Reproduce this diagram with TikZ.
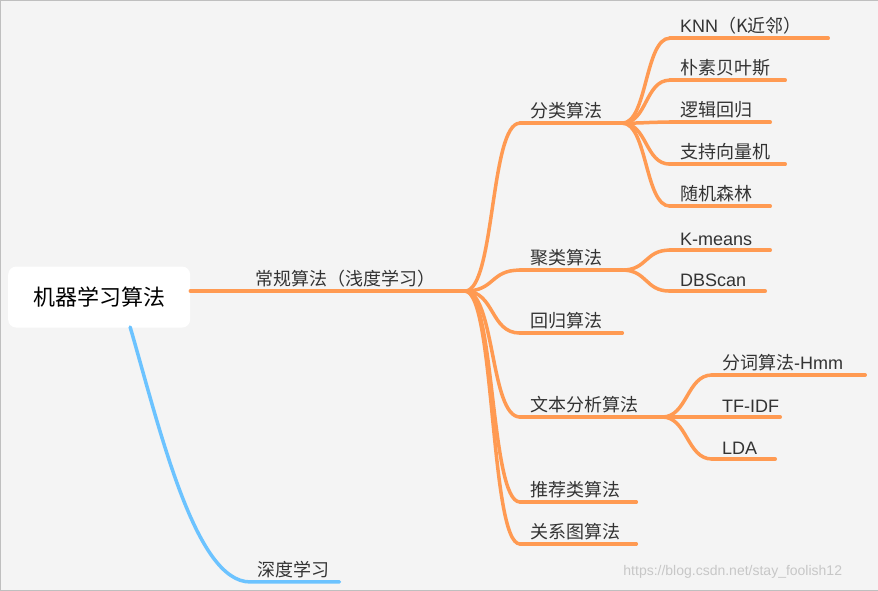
\documentclass[tikz,border=0pt]{standalone}
\usepackage{fontspec}
\newfontfamily\cjk{Noto Sans CJK SC}
\setsansfont{Liberation Sans}
\definecolor{org}{HTML}{FF9A52}
\definecolor{blu}{HTML}{6CC3FF}
\definecolor{bg}{HTML}{F4F4F4}
\definecolor{txt}{HTML}{333333}
\begin{document}
\begin{tikzpicture}[x=1pt,y=-1pt,
  lab/.style={anchor=south west,font=\cjk\fontsize{18}{21}\selectfont,text=txt,inner xsep=10pt,inner ysep=4pt,align=left},
  lat/.style={lab,font=\sffamily\fontsize{18}{21}\selectfont},
  ol/.style={draw=org,line width=3.5pt,line cap=round},
  bl/.style={draw=blu,line width=3.5pt,line cap=round}]
\path[fill=bg,draw=black!25] (0,0) rectangle (878,590);
\useasboundingbox (0,0) rectangle (878,590);
% root
\node[fill=white,rounded corners=8pt,minimum width=182pt,minimum height=61pt,font=\cjk\fontsize{22}{26}\selectfont,text=black] (root) at (99,297) {机器学习算法};
% main
\node[lab,text width=205pt,inner xsep=5pt] (main) at (250,291) {常规算法（浅度学习）};
\coordinate (H) at (465,291);
\draw[ol] (root.east |- H) -- (H);
% level 1
\node[lab,text width=82pt] (fl) at (520,123) {分类算法};
\node[lab,text width=82pt] (jl) at (520,270) {聚类算法};
\node[lab,text width=82pt] (hg) at (520,333) {回归算法};
\node[lab,text width=122pt] (wb) at (520,417) {文本分析算法};
\node[lab,text width=96pt] (tj) at (520,502) {推荐类算法};
\node[lab,text width=96pt] (gx) at (520,544) {关系图算法};
\foreach \n in {fl,jl,hg,wb,tj,gx}{
  \draw[ol] (\n.south west) -- (\n.south east);
  \draw[ol] (H) .. controls +(30,0) and +(-30,0) .. (\n.south west);
}
% level 2 of fl
\node[lab,text width=138pt] (knn) at (670,38) {\sffamily KNN\cjk（K近邻）};
\node[lab,text width=95pt] (pb) at (670,80) {朴素贝叶斯};
\node[lab,text width=80pt] (lj) at (670,122) {逻辑回归};
\node[lab,text width=95pt] (zc) at (670,164) {支持向量机};
\node[lab,text width=80pt] (sj) at (670,206) {随机森林};
\foreach \n in {knn,pb,lj,zc,sj}{
  \draw[ol] (\n.south west) -- (\n.south east);
  \draw[ol] (fl.south east) .. controls +(25,0) and +(-25,0) .. (\n.south west);
}
\node[lat,text width=80pt] (km) at (670,250) {\mbox{K-means}};
\node[lat,text width=75pt] (db) at (670,291) {\mbox{DBScan}};
\foreach \n in {km,db}{
  \draw[ol] (\n.south west) -- (\n.south east);
  \draw[ol] (jl.south east) .. controls +(25,0) and +(-25,0) .. (\n.south west);
}
\node[lab,text width=133pt] (fc) at (712,375) {\mbox{分词算法\sffamily -Hmm}};
\node[lat,text width=48pt] (tf) at (712,417) {\mbox{TF-IDF}};
\node[lat,text width=43pt] (lda) at (712,459) {\mbox{LDA}};
\foreach \n in {fc,tf,lda}{
  \draw[ol] (\n.south west) -- (\n.south east);
  \draw[ol] (wb.south east) .. controls +(25,0) and +(-25,0) .. (\n.south west);
}
% deep
\node[lab,text width=75pt,inner xsep=7pt] (sd) at (250,582) {深度学习};
\draw[bl] (130,327) .. controls (160,430) and (195,582) .. (sd.south west) -- (sd.south east);
% watermark
\node[anchor=west,font=\sffamily\fontsize{14}{16}\selectfont,text=black!22] (wm) at (620,572) {https://blog.csdn.net/stay\_foolish12};
\end{tikzpicture}
\end{document}
